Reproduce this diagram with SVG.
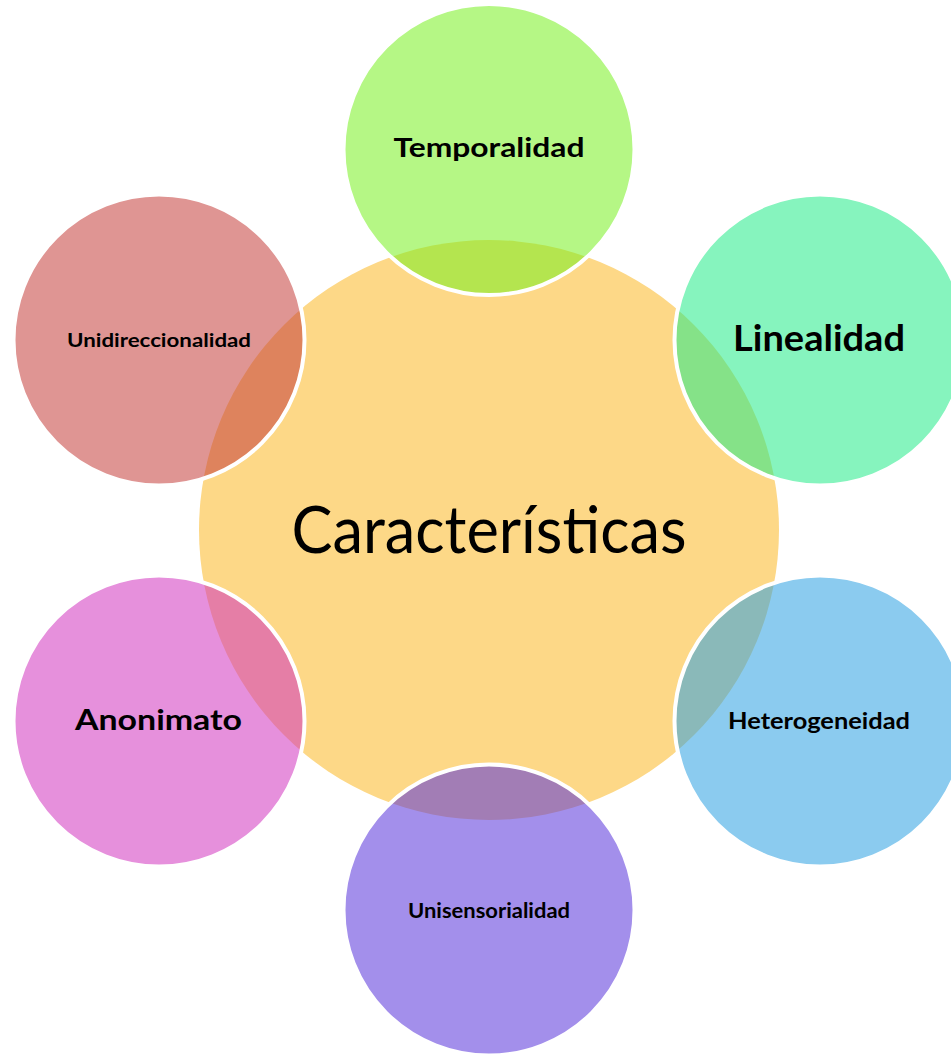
<svg xmlns="http://www.w3.org/2000/svg" width="951" height="1054" viewBox="0 0 951 1054">
<style>
.sat{stroke:#FFFFFF;stroke-width:4;fill-opacity:0.55}
.lbl{font-family:Lato,"Liberation Sans",sans-serif;font-weight:bold;fill:#000000;text-anchor:middle}
.ctr{font-family:Lato,"Liberation Sans",sans-serif;font-weight:normal;fill:#000000;text-anchor:middle}
</style>
<rect width="951" height="1054" fill="#FFFFFF"/>
<g id="center">
<circle cx="489" cy="530" r="290" fill="#FDD887"/>
<text class="ctr" x="489" y="553" font-size="66" textLength="395" lengthAdjust="spacingAndGlyphs">Características</text>
</g>
<g id="connectors"></g>
<g id="temporalidad">
<circle class="sat" cx="489" cy="149.5" r="145.5" fill="#78F021"/>
<text class="lbl" x="489" y="157" font-size="27" textLength="191" lengthAdjust="spacingAndGlyphs">Temporalidad</text>
</g>
<g id="linealidad">
<circle class="sat" cx="820" cy="340" r="145.5" fill="#23EB89"/>
<text class="lbl" x="819" y="351" font-size="36" textLength="172" lengthAdjust="spacingAndGlyphs">Linealidad</text>
</g>
<g id="heterogeneidad">
<circle class="sat" cx="820" cy="721" r="145.5" fill="#2CA0E2"/>
<text class="lbl" x="819" y="729" font-size="22" textLength="182" lengthAdjust="spacingAndGlyphs">Heterogeneidad</text>
</g>
<g id="unisensorialidad">
<circle class="sat" cx="489" cy="910" r="145.5" fill="#5833DB"/>
<text class="lbl" x="489" y="918" font-size="20" textLength="162" lengthAdjust="spacingAndGlyphs">Unisensorialidad</text>
</g>
<g id="anonimato">
<circle class="sat" cx="159" cy="721" r="145.5" fill="#D235BF"/>
<text class="lbl" x="158.5" y="730" font-size="28" textLength="167" lengthAdjust="spacingAndGlyphs">Anonimato</text>
</g>
<g id="unidireccionalidad">
<circle class="sat" cx="159" cy="340" r="145.5" fill="#C53E3A"/>
<text class="lbl" x="159" y="347" font-size="19" textLength="184" lengthAdjust="spacingAndGlyphs">Unidireccionalidad</text>
</g>
</svg>
